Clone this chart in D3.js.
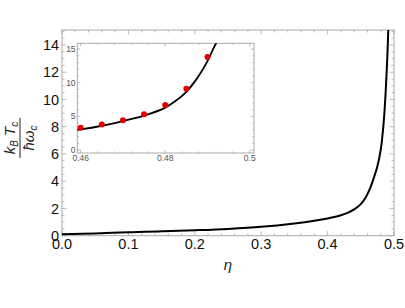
<!DOCTYPE html>
<html>
<head>
<meta charset="utf-8">
<script src="https://cdn.jsdelivr.net/npm/d3@7"></script>
<style>
  body { margin: 0; background: #fff; }
  text { font-family: "Liberation Sans", Arial, sans-serif; }
</style>
</head>
<body>
<svg id="chart" width="405" height="308"></svg>
<script>
// curve: eta, kB Tc / (hbar omega_c)
const curveEta = [0, 0.05, 0.1, 0.15, 0.2, 0.25, 0.3, 0.35, 0.38, 0.4, 0.42, 0.43, 0.44, 0.45, 0.455, 0.46, 0.465, 0.47, 0.475, 0.48, 0.4825, 0.485, 0.4875, 0.49, 0.4915, 0.493];
const curveT = [0.1, 0.17, 0.25, 0.32, 0.4, 0.5, 0.65, 0.9, 1.1, 1.27, 1.5, 1.68, 1.93, 2.32, 2.63, 3.05, 3.6, 4.3, 5.1, 6.3, 7.3, 8.65, 10.6, 13.2, 15.2, 17];

// red points in the inset
const pointEta = [0.46, 0.465, 0.47, 0.475, 0.48, 0.485, 0.49];
const pointT = [3.3, 3.8, 4.4, 5.3, 6.7, 9.1, 13.8];

const mainXTicks = [0, 0.1, 0.2, 0.3, 0.4, 0.5];
const mainYTicks = [0, 2, 4, 6, 8, 10, 12, 14];
const insetXTicks = [0.46, 0.48, 0.5];
const insetYTicks = [0, 5, 10, 15];

const curve = curveEta.map((e, i) => ({ x: e, y: curveT[i] }));
const points = pointEta.map((e, i) => ({ x: e, y: pointT[i] }));

const svg = d3.select('#chart');
const frameColor = '#aaa';

function panel(opts) {
  const { x, y, xTicks, yTicks, xMinor, yMinor, major, minor, fontSize, labelColor, xFmt, yFmt, id } = opts;
  const [x0, x1] = x.range();
  const [y0, y1] = y.range(); // y0 bottom, y1 top

  const g = svg.append('g');

  svg.append('clipPath').attr('id', id)
    .append('rect')
    .attr('x', x0).attr('y', y1)
    .attr('width', x1 - x0).attr('height', y0 - y1);

  g.append('rect')
    .attr('x', x0).attr('y', y1)
    .attr('width', x1 - x0).attr('height', y0 - y1)
    .attr('fill', '#fff')
    .attr('stroke', frameColor)
    .attr('stroke-width', 1);

  const ticks = g.append('g').attr('stroke', frameColor).attr('stroke-width', 0.8);

  const xt = [...xTicks.map(v => [v, major]), ...xMinor.map(v => [v, minor])];
  xt.forEach(([v, len]) => {
    ticks.append('line').attr('x1', x(v)).attr('x2', x(v)).attr('y1', y0).attr('y2', y0 - len);
    ticks.append('line').attr('x1', x(v)).attr('x2', x(v)).attr('y1', y1).attr('y2', y1 + len);
  });
  const yt = [...yTicks.map(v => [v, major]), ...yMinor.map(v => [v, minor])];
  yt.forEach(([v, len]) => {
    ticks.append('line').attr('y1', y(v)).attr('y2', y(v)).attr('x1', x0).attr('x2', x0 + len);
    ticks.append('line').attr('y1', y(v)).attr('y2', y(v)).attr('x1', x1).attr('x2', x1 - len);
  });

  g.append('g').selectAll('text').data(xTicks).join('text')
    .attr('x', d => x(d))
    .attr('y', y0 + fontSize * 0.95)
    .attr('text-anchor', 'middle')
    .attr('font-size', fontSize)
    .attr('fill', labelColor)
    .text(xFmt);

  g.append('g').selectAll('text').data(yTicks).join('text')
    .attr('x', x0 - fontSize * 0.2)
    .attr('y', d => y(d))
    .attr('dy', '0.35em')
    .attr('text-anchor', 'end')
    .attr('font-size', fontSize)
    .attr('fill', labelColor)
    .text(yFmt);

  return g;
}

// main panel
const x = d3.scaleLinear().domain([0, 0.5]).range([62, 394]);
const y = d3.scaleLinear().domain([0, 15.1]).range([235.7, 30]);

panel({
  x, y, id: 'clipMain',
  xTicks: mainXTicks, yTicks: mainYTicks,
  xMinor: d3.range(0, 0.5, 0.02).filter(v => Math.abs(v * 10 - Math.round(v * 10)) > 1e-6),
  yMinor: d3.range(0, 15.01, 0.5).filter(v => v % 2 !== 0),
  major: 4.5, minor: 2.5, fontSize: 14.5, labelColor: '#111',
  xFmt: d => d3.format('.1f')(d), yFmt: d => d
});

const line = d3.line().x(d => x(d.x)).y(d => y(d.y)).curve(d3.curveCatmullRom.alpha(0.5));
svg.append('path')
  .datum(curve)
  .attr('d', line)
  .attr('fill', 'none')
  .attr('stroke', '#000')
  .attr('stroke-width', 2)
  .attr('clip-path', 'url(#clipMain)');

// axis labels
svg.append('text')
  .attr('x', 228).attr('y', 270)
  .attr('text-anchor', 'middle')
  .attr('font-size', 15)
  .attr('font-style', 'italic')
  .attr('fill', '#222')
  .text('η');

const yl = svg.append('g').attr('transform', 'translate(20,138) rotate(-90)').attr('fill', '#222');
const num = yl.append('text').attr('x', 0).attr('y', -5).attr('text-anchor', 'middle').attr('font-size', 15).attr('font-style', 'italic');
num.append('tspan').text('k');
num.append('tspan').attr('font-size', 10).attr('dy', 3).text('B');
num.append('tspan').attr('dy', -3).text(' T');
num.append('tspan').attr('font-size', 10).attr('dy', 3).text('c');
yl.append('line').attr('x1', -20).attr('x2', 20).attr('y1', 0).attr('y2', 0).attr('stroke', '#222').attr('stroke-width', 1);
const den = yl.append('text').attr('x', 0).attr('y', 14).attr('text-anchor', 'middle').attr('font-size', 15).attr('font-style', 'italic');
den.append('tspan').text('ħω');
den.append('tspan').attr('font-size', 10).attr('dy', 3).text('c');

// inset panel
const xi = d3.scaleLinear().domain([0.4592, 0.501]).range([77.3, 254]);
const yi = d3.scaleLinear().domain([-0.45, 15.85]).range([153, 43.3]);

panel({
  x: xi, y: yi, id: 'clipInset',
  xTicks: insetXTicks, yTicks: insetYTicks,
  xMinor: d3.range(0.46, 0.5, 0.004).filter(v => Math.abs(v * 50 - Math.round(v * 50)) > 1e-6),
  yMinor: d3.range(0, 15.5, 1).filter(v => v % 5 !== 0),
  major: 3, minor: 1.6, fontSize: 8.5, labelColor: '#555',
  xFmt: d => d, yFmt: d => d
});

const linei = d3.line().x(d => xi(d.x)).y(d => yi(d.y)).curve(d3.curveCatmullRom.alpha(0.5));
svg.append('path')
  .datum(curve.filter(d => d.x >= 0.45))
  .attr('d', linei)
  .attr('fill', 'none')
  .attr('stroke', '#000')
  .attr('stroke-width', 1.8)
  .attr('clip-path', 'url(#clipInset)');

svg.append('g').selectAll('circle').data(points).join('circle')
  .attr('cx', d => xi(d.x))
  .attr('cy', d => yi(d.y))
  .attr('r', 3)
  .attr('fill', '#e60000');
</script>
</body>
</html>
